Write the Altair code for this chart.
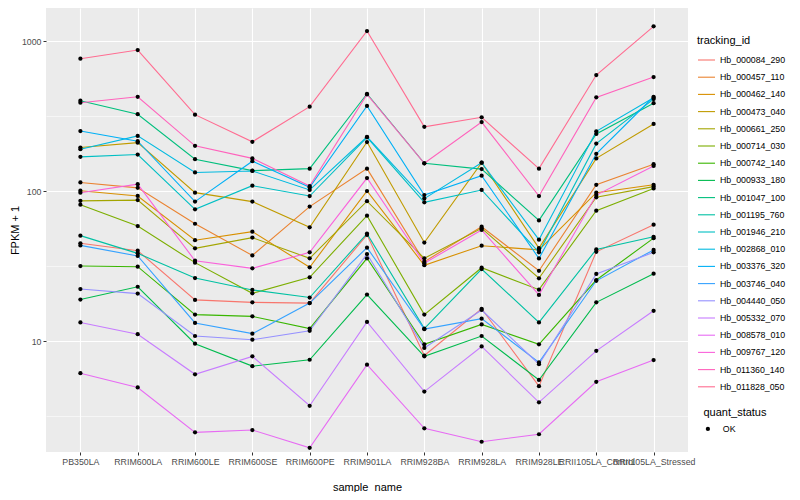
import altair as alt
import pandas as pd

samples = ["PB350LA", "RRIM600LA", "RRIM600LE", "RRIM600SE", "RRIM600PE",
           "RRIM901LA", "RRIM928BA", "RRIM928LA", "RRIM928LE",
           "RRII105LA_Control", "RRII105LA_Stressed"]

tracking_ids = ["Hb_000084_290", "Hb_000457_110", "Hb_000462_140", "Hb_000473_040",
                "Hb_000661_250", "Hb_000714_030", "Hb_000742_140", "Hb_000933_180",
                "Hb_001047_100", "Hb_001195_760", "Hb_001946_210", "Hb_002868_010",
                "Hb_003376_320", "Hb_003746_040", "Hb_004440_050", "Hb_005332_070",
                "Hb_008578_010", "Hb_009767_120", "Hb_011360_140", "Hb_011828_050"]

hb_000084_290 = [44.8, 40, 18.8, 18.1, 17.9, 51, 8.0, 16.4, 5.0, 39.3, 59.6]
hb_000457_110 = [114, 105, 60.5, 37.2, 78.7, 141, 33.8, 57.8, 29.4, 110, 151]
hb_000462_140 = [100.5, 92.7, 47, 53.6, 31, 100, 32, 43.2, 40.5, 97.5, 110]
hb_000473_040 = [195, 210, 97.5, 85, 57.3, 212, 45.3, 154.5, 41.6, 165, 280]
hb_000661_250 = [86, 87, 41.5, 48.9, 35.6, 85.5, 35.6, 56.4, 26.2, 90.8, 107]
hb_000714_030 = [81, 58.4, 33.3, 20.8, 26.6, 68.5, 15, 30.8, 22, 74, 104]
hb_000742_140 = [31.6, 31.3, 15, 14.6, 12.1, 35.6, 9.5, 12.9, 9.5, 25.5, 48.5]
hb_000933_180 = [18.9, 23, 9.6, 6.8, 7.5, 20.4, 7.9, 10.8, 5.5, 18.1, 28.1]
hb_001047_100 = [400, 325, 163, 136.7, 141, 445, 153, 140, 63.7, 240, 385]
hb_001195_760 = [50.4, 38.4, 26.3, 21.9, 19.5, 52, 12.1, 30.2, 13.3, 40.8, 49.5]
hb_001946_210 = [169, 175, 75.5, 108.6, 92.6, 228, 84, 101.6, 39, 207, 410]
hb_002868_010 = [190, 233, 133, 136, 101.6, 230, 89, 154.5, 47.4, 250, 418]
hb_003376_320 = [251, 215, 85, 158, 105.8, 369, 94, 126.5, 35.5, 177, 425]
hb_003746_040 = [43.4, 36.9, 13.2, 11.2, 17.9, 41.9, 12.0, 14.1, 7.2, 25.2, 40.5]
hb_004440_050 = [22.2, 20.7, 10.8, 10.2, 11.7, 38, 9.0, 16.1, 7.0, 28, 39]
hb_005332_070 = [13.3, 11.1, 6.0, 7.9, 3.7, 13.4, 4.6, 9.2, 3.9, 8.6, 15.9]
hb_008578_010 = [6.1, 4.9, 2.46, 2.55, 1.94, 6.95, 2.62, 2.13, 2.39, 5.35, 7.46]
hb_009767_120 = [97.4, 111, 34.3, 30.5, 39, 122, 33, 55, 20.3, 94, 147]
hb_011360_140 = [388, 425, 200, 165, 108, 440, 153, 288, 92.6, 421, 575]
hb_011828_050 = [762, 871, 323, 213, 365, 1166, 268, 310, 141, 593, 1253]

series_values = [hb_000084_290, hb_000457_110, hb_000462_140, hb_000473_040,
                 hb_000661_250, hb_000714_030, hb_000742_140, hb_000933_180,
                 hb_001047_100, hb_001195_760, hb_001946_210, hb_002868_010,
                 hb_003376_320, hb_003746_040, hb_004440_050, hb_005332_070,
                 hb_008578_010, hb_009767_120, hb_011360_140, hb_011828_050]

palette = ["#F8766D", "#EA8331", "#D89000", "#C09B00", "#A3A500", "#7CAE00",
           "#39B600", "#00BB4E", "#00BF7D", "#00C1A3", "#00BFC4", "#00BAE0",
           "#00B0F6", "#35A2FF", "#9590FF", "#C77CFF", "#E76BF3", "#FA62DB",
           "#FF62BC", "#FF6C91"]

rows = []
for tid, vals in zip(tracking_ids, series_values):
    for s, v in zip(samples, vals):
        rows.append({"tracking_id": tid, "sample_name": s, "fpkm1": v, "quant_status": "OK"})
df = pd.DataFrame(rows)

major_test = "datum.value == 10 || datum.value == 100 || datum.value == 1000"

x_enc = alt.X("sample_name:N", sort=samples,
              scale=alt.Scale(type="point", padding=0.6),
              axis=alt.Axis(title="sample_name", labelAngle=0, labelOverlap=False,
                            tickSize=3, tickColor="#333333", labelColor="#4D4D4D",
                            labelFontSize=8.8, labelPadding=2, grid=True,
                            gridColor="white", gridWidth=1.1, domain=False,
                            titleFontSize=11, titleFontWeight="normal", titleColor="black",
                            titleX=321, titleY=35, titleBaseline="middle"))

y_enc = alt.Y("fpkm1:Q",
              scale=alt.Scale(type="log", domain=[1.82, 1660], nice=False),
              axis=alt.Axis(title="FPKM + 1",
                            values=[3.1623, 10, 31.623, 100, 316.23, 1000],
                            labelExpr="(" + major_test + ") ? format(datum.value, 'd') : ''",
                            tickSize=3, tickColor="#333333", labelColor="#4D4D4D",
                            labelFontSize=8.8, labelPadding=2, grid=True, gridColor="white",
                            gridWidth={"condition": {"test": major_test, "value": 1.1}, "value": 0.55},
                            tickOpacity={"condition": {"test": major_test, "value": 1}, "value": 0},
                            domain=False, titleFontSize=11, titleFontWeight="normal",
                            titleColor="black", titleX=-31, titleY=222, titleAngle=270,
                            titleAlign="center", titleBaseline="middle"))

lines = alt.Chart(df).mark_line(strokeWidth=1.1).encode(
    x=x_enc, y=y_enc,
    color=alt.Color("tracking_id:N",
                    scale=alt.Scale(domain=tracking_ids, range=palette),
                    legend=alt.Legend(title="tracking_id", orient="none", legendX=651, legendY=27,
                                      symbolType="stroke", symbolSize=289, symbolStrokeWidth=1.1,
                                      rowPadding=2.2, titlePadding=4.5, labelOffset=4, padding=0,
                                      labelFontSize=8.8, titleFontSize=11, titleFontWeight="normal",
                                      labelColor="black", titleColor="black")),
    detail="tracking_id:N",
)

points = alt.Chart(df).mark_point(filled=True, color="black", opacity=1, size=18).encode(
    x=x_enc, y=y_enc,
    shape=alt.Shape("quant_status:N", scale=alt.Scale(range=["circle"]),
                    legend=alt.Legend(title="quant_status", orient="none", legendX=657.5,
                                      legendY=399, symbolSize=18, symbolFillColor="black",
                                      symbolStrokeColor="black", titlePadding=6.5,
                                      labelOffset=10.5, padding=0, labelFontSize=8.8,
                                      titleFontSize=11, titleFontWeight="normal",
                                      labelColor="black", titleColor="black")),
)

chart = alt.layer(lines, points).properties(
    width=642, height=444,
    padding={"left": 38, "top": 0, "right": 104, "bottom": 40},
    autosize=alt.AutoSizeParams(type="none"),
).configure(
    background="white", font="Liberation Sans"
).configure_view(
    fill="#EBEBEB", strokeWidth=0
)

chart.save("out.html", embed_options={"renderer": "svg", "actions": False})
